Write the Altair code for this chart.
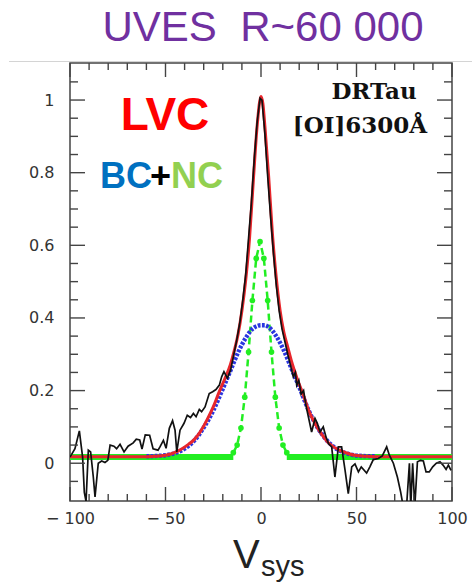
import altair as alt
import pandas as pd

# ---------------- data ----------------
black_v = [-100, -97.4, -95.1, -93.4, -92.5, -91.6, -90.4, -89.2, -87.8, -86.9, -85.2, -83.4, -81.7, -80.2,
           -79, -77, -75.6, -73.8, -71.7, -69.6, -66.9, -65.3, -63.5, -62.3, -60.6, -58.3, -56.5, -53.9,
           -52.9, -51.1, -49.7, -48, -46.3, -45, -44.1, -42.4, -40.3, -38.6, -36.9, -35.4, -34, -32.3,
           -31.1, -29.3, -27.1, -25.3, -23.6, -21.8, -20.6, -19.4, -17.6, -15.9, -14.5, -12.7, -11, -9.5,
           -8, -6.5, -5, -3.5, -2, -0.5, 0.5, 2, 3.5, 5, 6.5, 8, 9.5, 11, 12.5, 14, 15.2, 16.9, 18, 18.7,
           19.8, 21, 22.3, 23.5, 24.8, 26.5, 28.3, 29.5, 30.9, 32.6, 34, 35.3, 37, 38.7, 40.5, 42.2, 44,
           45.7, 47.5, 49.2, 51, 52.5, 55.3, 57, 58.8, 61.4, 63.5, 65.8, 67.2, 69.3, 71.4, 73.1, 74.5, 76.2,
           77.7, 78.4, 79.4, 80.5, 81.9, 83.5, 85, 86.4, 88.1, 89.9, 91.8, 93.7, 95.3, 96.9, 98.1, 99.5]
black_f = [0.017, 0.04, 0.089, 0.017, -0.08, -0.105, 0.036, 0.031, -0.038, -0.093, 0.0, 0.006, 0.002, 0.008,
           0.05, 0.047, 0.04, 0.052, 0.031, 0.047, 0.056, 0.066, 0.064, 0.039, 0.078, 0.077, 0.04, 0.036,
           0.045, 0.063, 0.041, 0.096, 0.117, 0.091, 0.031, 0.091, 0.110, 0.132, 0.126, 0.137, 0.128, 0.148,
           0.142, 0.155, 0.192, 0.197, 0.203, 0.215, 0.238, 0.252, 0.234, 0.257, 0.293, 0.339, 0.39, 0.45,
           0.52, 0.62, 0.72, 0.84, 0.94, 1.005, 1.0, 0.91, 0.79, 0.68, 0.58, 0.49, 0.42, 0.37, 0.335, 0.30,
           0.275, 0.238, 0.25, 0.215, 0.228, 0.19, 0.2, 0.16, 0.128, 0.086, 0.123, 0.11, 0.086, 0.1, 0.073,
           0.054, 0.045, -0.038, 0.045, 0.045, -0.019, -0.084, -0.01, -0.002, -0.024, -0.01, -0.027, -0.01,
           0.01, 0.013, 0.02, 0.045, 0.022, 0.0, -0.038, -0.079, -0.12, -0.12, 0.0, -0.12, 0.0, -0.12, 0.004,
           0.008, 0.006, -0.024, -0.024, -0.01, 0.0, 0.004, -0.005, -0.017, -0.005, -0.02]

red_v = [-100, -60, -55, -50, -45, -42, -38, -35, -32, -28, -25, -22, -19, -16, -14, -12, -10, -8, -6, -4,
         -2, 0, 1, 2, 4, 6, 8, 10, 12, 14, 16, 19, 22, 25, 28, 32, 35, 38, 42, 46, 50, 55, 60, 100]
red_f = [0.018, 0.018, 0.019, 0.022, 0.03, 0.038, 0.052, 0.065, 0.085, 0.122, 0.155, 0.195, 0.232, 0.272,
         0.31, 0.355, 0.42, 0.505, 0.62, 0.78, 0.93, 1.01, 0.99, 0.93, 0.79, 0.63, 0.51, 0.42, 0.36, 0.32,
         0.28, 0.232, 0.19, 0.145, 0.112, 0.078, 0.058, 0.045, 0.034, 0.026, 0.021, 0.019, 0.018, 0.018]

blue_v = [-60, -50, -45, -40, -35, -30, -25, -20, -16, -12, -8, -4, 0, 2, 4, 8, 12, 16, 20, 25, 30, 35, 40,
          45, 50, 60]
blue_f = [0.019, 0.022, 0.028, 0.04, 0.062, 0.098, 0.145, 0.205, 0.255, 0.305, 0.345, 0.372, 0.38, 0.38,
          0.375, 0.35, 0.31, 0.26, 0.21, 0.145, 0.095, 0.06, 0.038, 0.027, 0.021, 0.019]

green_core_v = [-14.5, -12.5, -10.5, -8.5, -6.5, -4.5, -2.5, -0.5, 1.5, 3.5, 5.5, 7.5, 9.5, 11.5, 13.5]
green_core_f = [0.029, 0.05, 0.097, 0.182, 0.306, 0.448, 0.564, 0.61, 0.564, 0.448, 0.306, 0.182, 0.097,
                0.05, 0.029]
green_base_v = [-100, -14.5, 13.5, 100]
green_base_f = [0.017, 0.017, 0.017, 0.017]
green_base_seg = ["left", "left", "right", "right"]

x_major = [-100, -50, 0, 50, 100]
x_minor = [-90, -80, -70, -60, -40, -30, -20, -10, 10, 20, 30, 40, 60, 70, 80, 90]
y_major = [0, 0.2, 0.4, 0.6, 0.8, 1]
y_minor = [-0.05, 0.05, 0.1, 0.15, 0.25, 0.3, 0.35, 0.45, 0.5, 0.55, 0.65, 0.7, 0.75, 0.85, 0.9, 0.95, 1.05]

title_text = "UVES\u00a0 R~60 000"
W, H = 382, 438

xs = alt.Scale(domain=[-100, 100], nice=False, zero=False)
ys = alt.Scale(domain=[-0.104, 1.102], nice=False, zero=False)

black_df = pd.DataFrame({"v": black_v, "f": black_f})
red_df = pd.DataFrame({"v": red_v, "f": red_f})
blue_df = pd.DataFrame({"v": blue_v, "f": blue_f})
gcore_df = pd.DataFrame({"v": green_core_v, "f": green_core_f})
gbase_df = pd.DataFrame({"v": green_base_v, "f": green_base_f, "seg": green_base_seg})

xaxis = alt.Axis(values=x_major, labelExpr="datum.value < 0 ? '\u2212 ' + abs(datum.value) : '' + datum.value",
                 labelFont="DejaVu Sans", labelFontSize=16, labelColor="#333", labelPadding=9,
                 ticks=False, domain=False, grid=False, title=None, labelFlush=False, labelOverlap=False)
yaxis = alt.Axis(values=y_major, labelExpr="'' + datum.value",
                 labelFont="DejaVu Sans", labelFontSize=16, labelColor="#333", labelPadding=16,
                 ticks=False, domain=False, grid=False, title=None, labelOverlap=False)


def X():
    return alt.X("v:Q", scale=xs, axis=xaxis, title=None)


def Y():
    return alt.Y("f:Q", scale=ys, axis=yaxis, title=None)


gbase = alt.Chart(gbase_df).mark_line(color="#22ee22", strokeWidth=6, clip=True).encode(
    x=X(), y=Y(), detail="seg:N")
gcore_line = alt.Chart(gcore_df).mark_line(color="#22ee22", strokeWidth=2.5, strokeDash=[7, 4], clip=True).encode(
    x=X(), y=Y())
gcore_pts = alt.Chart(gcore_df).mark_point(shape="circle", filled=True, size=32, color="#22ee22", opacity=1).encode(
    x=X(), y=Y())
blue = alt.Chart(blue_df).mark_line(color="#2a35e0", strokeWidth=4.4, strokeDash=[2.8, 1.4],
                                     interpolate="monotone", clip=True).encode(x=X(), y=Y())
red = alt.Chart(red_df).mark_line(color="#e8262c", strokeWidth=3, interpolate="monotone", clip=True).encode(
    x=X(), y=Y())
black = alt.Chart(black_df).mark_line(color="#111111", strokeWidth=1.7, clip=True).encode(x=X(), y=Y())

tick_color = "#444"
xmaj_df = pd.DataFrame({"v": x_major})
xmin_df = pd.DataFrame({"v": x_minor})
ymaj_df = pd.DataFrame({"f": y_major})
ymin_df = pd.DataFrame({"f": y_minor})


def xt(df, y1, y2):
    return alt.Chart(df).mark_rule(color=tick_color, strokeWidth=1.4).encode(
        x=X(), y=alt.value(y1), y2=alt.value(y2))


def yt(df, x1, x2):
    return alt.Chart(df).mark_rule(color=tick_color, strokeWidth=1.4).encode(
        y=Y(), x=alt.value(x1), x2=alt.value(x2))


ticks = [xt(xmaj_df, H, H - 14), xt(xmaj_df, 0, 14), xt(xmin_df, H, H - 7), xt(xmin_df, 0, 7),
         yt(ymaj_df, 0, 15), yt(ymaj_df, W, W - 15), yt(ymin_df, 0, 8), yt(ymin_df, W, W - 8)]


def txt(s, x, y, size, color, font="Liberation Sans", weight="normal", align="left"):
    return alt.Chart(pd.DataFrame({"t": [s]})).mark_text(
        font=font, fontSize=size, fontWeight=weight, color=color, align=align, baseline="alphabetic"
    ).encode(text="t:N", x=alt.value(x), y=alt.value(y))


sep = alt.Chart(pd.DataFrame({"t": [0]})).mark_rule(color="#d4d4d4", strokeWidth=1.2).encode(
    x=alt.value(-61), x2=alt.value(402), y=alt.value(-1.5))

texts = [
    txt(title_text, 193, -22, 42, "#7030A0", align="center"),
    txt("LVC", 95, 67, 46, "#FF0000", weight="bold", align="center"),
    txt("BC", 30, 125, 36, "#0070C0", weight="bold"),
    txt("+", 80, 125, 36, "#000000", weight="bold"),
    txt("NC", 101, 125, 36, "#92D050", weight="bold"),
    txt("DRTau", 304, 36, 23, "#111111", font="DejaVu Serif", weight="bold", align="center"),
    txt("[OI]6300\u00c5", 290, 70, 23, "#111111", font="DejaVu Serif", weight="bold", align="center"),
    txt("V", 163, 505, 40, "#222222"),
    txt("sys", 191, 513, 29, "#222222"),
]

chart = alt.layer(gbase, gcore_line, gcore_pts, blue, red, black, *ticks, sep, *texts).properties(
    width=W, height=H,
    autosize=alt.AutoSizeParams(type="none"),
    padding={"left": 70, "top": 63, "right": 20, "bottom": 82},
    background="white",
).configure_view(stroke="#444", strokeWidth=1.5)

chart.save("out.html", embed_options={"renderer": "svg", "actions": False})
